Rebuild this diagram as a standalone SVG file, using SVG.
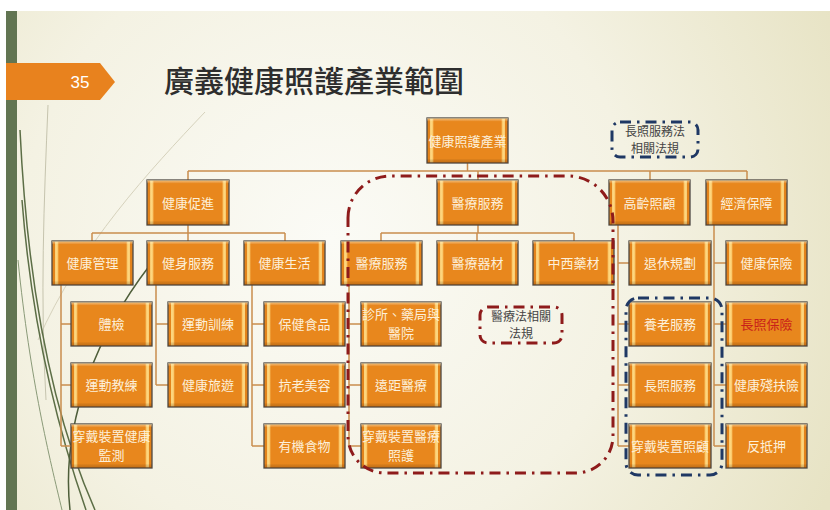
<svg xmlns="http://www.w3.org/2000/svg" width="830" height="510" viewBox="0 0 830 510">
<defs>
<radialGradient id="bg" cx="330" cy="240" r="560" gradientUnits="userSpaceOnUse">
<stop offset="0" stop-color="#FBFBF6"/>
<stop offset="0.55" stop-color="#F4F2E3"/>
<stop offset="1" stop-color="#E7E3C4"/>
</radialGradient>
<linearGradient id="gb" x1="0" y1="0" x2="1" y2="0">
<stop offset="0" stop-color="#E3831B"/>
<stop offset="0.035" stop-color="#E3831B"/>
<stop offset="0.045" stop-color="#FFE08C"/>
<stop offset="0.07" stop-color="#FBC86A"/>
<stop offset="0.085" stop-color="#E8871D"/>
<stop offset="0.915" stop-color="#E8871D"/>
<stop offset="0.93" stop-color="#FBC86A"/>
<stop offset="0.955" stop-color="#FFE08C"/>
<stop offset="0.965" stop-color="#E3831B"/>
<stop offset="1" stop-color="#E3831B"/>
</linearGradient>
<linearGradient id="gv" x1="0" y1="0" x2="0" y2="1">
<stop offset="0" stop-color="#FFF0C0" stop-opacity="0.55"/>
<stop offset="0.08" stop-color="#FFFFFF" stop-opacity="0"/>
<stop offset="0.9" stop-color="#000000" stop-opacity="0"/>
<stop offset="1" stop-color="#7A3A00" stop-opacity="0.3"/>
</linearGradient>
</defs>
<style>
.b{fill:url(#gb);stroke:#4E4843;stroke-width:1.3}
.o{fill:url(#gv);stroke:none}
.t{font-family:"Noto Sans CJK TC","Noto Sans CJK SC",sans-serif;font-size:13px;fill:#FDF0DA;text-anchor:middle}
.r{fill:#C8201A}
.c{fill:none;stroke:#C98D4E;stroke-width:1.5}
.n{font-family:"Noto Sans CJK TC","Noto Sans CJK SC",sans-serif;font-size:12px;fill:#444;text-anchor:middle}
.red{fill:none;stroke:#8E1B1B;stroke-width:3;stroke-dasharray:11 6 2.5 6}
.blue{fill:none;stroke:#1F3864;stroke-width:3;stroke-dasharray:11 6 2.5 6}
.deco{fill:none;stroke:#5C6E46;stroke-width:1.5}
</style>
<rect x="0" y="0" width="830" height="510" fill="#FFFFFF"/>
<rect x="6" y="11" width="824" height="499" fill="url(#bg)"/>
<g id="decor">
<path d="M205,112 C150,170 80,245 38,340" fill="none" stroke="#D6D2BC" stroke-width="1"/>
<path d="M48,105 C44,200 40,300 46,400" fill="none" stroke="#C6C4AE" stroke-width="1"/>
<path class="deco" d="M20,130 C28,300 55,420 95,510"/>
<path class="deco" d="M22,200 C32,330 58,430 86,510" stroke-width="1"/>
<path d="M150,265 C100,330 60,420 70,510" fill="none" stroke="#4E5E3A" stroke-width="1.5"/>
<path d="M18,260 C30,380 50,460 62,510" fill="none" stroke="#8A9A78" stroke-width="1"/>
</g>
<rect x="6" y="11" width="11" height="499" fill="#627552"/>
<g id="page-tab">
<polygon points="6,63 100,63 115,82 100,100 6,100" fill="#E8821E"/>
<text x="80" y="88" font-family="'Liberation Sans',Arial,sans-serif" font-size="17" fill="#FFFFFF" text-anchor="middle">35</text>
</g>
<text id="title" x="314" y="92" font-family="'Noto Sans CJK TC','Noto Sans CJK SC',sans-serif" font-size="30" font-weight="500" fill="#2E2E2E" text-anchor="middle">廣義健康照護產業範圍</text>

<g id="connectors">
<path class="c" d="M467.5,163 V171 M188,171 H747 M188,171 V180 M478,171 V180 M650,171 V180 M747,171 V180"/>
<path class="c" d="M188,225 V233 M92,233 H285 M92,233 V241 M188,233 V241 M285,233 V241"/>
<path class="c" d="M478,225 V233 M381,233 H574 M381,233 V241 M477,233 V241 M574,233 V241"/>
<path class="c" d="M618,225 V446 M618,263 H629 M618,324 H629 M618,385 H629 M618,446 H629"/>
<path class="c" d="M714,225 V446 M714,263 H726 M714,324 H726 M714,385 H726 M714,446 H726"/>
<path class="c" d="M61,285 V446 M61,324 H71 M61,385 H71 M61,446 H71"/>
<path class="c" d="M156,285 V385 M156,324 H168 M156,385 H168"/>
<path class="c" d="M252,285 V446 M252,324 H264 M252,385 H264 M252,446 H264"/>
<path class="c" d="M349,285 V446 M349,324 H361 M349,385 H361 M349,446 H361"/>
</g>

<g id="root"><rect class="b" x="427" y="118" width="81" height="45"/><rect class="o" x="427" y="118" width="81" height="45"/><text class="t" x="467.5" y="145.5">健康照護產業</text></g>

<g id="n-health-promo"><rect class="b" x="147" y="180" width="82" height="45"/><rect class="o" x="147" y="180" width="82" height="45"/><text class="t" x="188" y="207.5">健康促進</text></g>
<g id="n-medical"><rect class="b" x="437" y="180" width="81" height="45"/><rect class="o" x="437" y="180" width="81" height="45"/><text class="t" x="477.5" y="207.5">醫療服務</text></g>
<g id="n-elder"><rect class="b" x="609" y="180" width="81" height="45"/><rect class="o" x="609" y="180" width="81" height="45"/><text class="t" x="649.5" y="207.5">高齡照顧</text></g>
<g id="n-economic"><rect class="b" x="706" y="180" width="81" height="45"/><rect class="o" x="706" y="180" width="81" height="45"/><text class="t" x="746.5" y="207.5">經濟保障</text></g>

<g id="n-health-mgmt"><rect class="b" x="52" y="241" width="81" height="44"/><rect class="o" x="52" y="241" width="81" height="44"/><text class="t" x="92.5" y="268">健康管理</text></g>
<g id="n-fitness"><rect class="b" x="147" y="241" width="82" height="44"/><rect class="o" x="147" y="241" width="82" height="44"/><text class="t" x="188" y="268">健身服務</text></g>
<g id="n-health-life"><rect class="b" x="244" y="241" width="81" height="44"/><rect class="o" x="244" y="241" width="81" height="44"/><text class="t" x="284.5" y="268">健康生活</text></g>
<g id="n-med-service"><rect class="b" x="341" y="241" width="81" height="44"/><rect class="o" x="341" y="241" width="81" height="44"/><text class="t" x="381.5" y="268">醫療服務</text></g>
<g id="n-med-equip"><rect class="b" x="437" y="241" width="81" height="44"/><rect class="o" x="437" y="241" width="81" height="44"/><text class="t" x="477.5" y="268">醫療器材</text></g>
<g id="n-medicine"><rect class="b" x="533" y="241" width="81" height="44"/><rect class="o" x="533" y="241" width="81" height="44"/><text class="t" x="573.5" y="268">中西藥材</text></g>
<g id="n-retire"><rect class="b" x="629" y="241" width="82" height="44"/><rect class="o" x="629" y="241" width="82" height="44"/><text class="t" x="670" y="268">退休規劃</text></g>
<g id="n-health-ins"><rect class="b" x="726" y="241" width="81" height="44"/><rect class="o" x="726" y="241" width="81" height="44"/><text class="t" x="766.5" y="268">健康保險</text></g>

<g id="n-checkup"><rect class="b" x="71" y="302" width="81" height="44"/><rect class="o" x="71" y="302" width="81" height="44"/><text class="t" x="111.5" y="329">體檢</text></g>
<g id="n-coach"><rect class="b" x="71" y="363" width="81" height="44"/><rect class="o" x="71" y="363" width="81" height="44"/><text class="t" x="111.5" y="390">運動教練</text></g>
<g id="n-wear-health"><rect class="b" x="71" y="424" width="81" height="44"/><rect class="o" x="71" y="424" width="81" height="44"/><text class="t" x="111.5" y="441">穿戴裝置健康</text><text class="t" x="111.5" y="460">監測</text></g>

<g id="n-training"><rect class="b" x="168" y="302" width="80" height="44"/><rect class="o" x="168" y="302" width="80" height="44"/><text class="t" x="208" y="329">運動訓練</text></g>
<g id="n-travel"><rect class="b" x="168" y="363" width="80" height="44"/><rect class="o" x="168" y="363" width="80" height="44"/><text class="t" x="208" y="390">健康旅遊</text></g>

<g id="n-food"><rect class="b" x="264" y="302" width="81" height="44"/><rect class="o" x="264" y="302" width="81" height="44"/><text class="t" x="304.5" y="329">保健食品</text></g>
<g id="n-antiaging"><rect class="b" x="264" y="363" width="81" height="44"/><rect class="o" x="264" y="363" width="81" height="44"/><text class="t" x="304.5" y="390">抗老美容</text></g>
<g id="n-organic"><rect class="b" x="264" y="424" width="81" height="44"/><rect class="o" x="264" y="424" width="81" height="44"/><text class="t" x="304.5" y="451">有機食物</text></g>

<g id="n-clinic"><rect class="b" x="361" y="302" width="80" height="44"/><rect class="o" x="361" y="302" width="80" height="44"/><text class="t" x="401" y="318.5">診所、藥局與</text><text class="t" x="401" y="338">醫院</text></g>
<g id="n-tele"><rect class="b" x="361" y="363" width="80" height="44"/><rect class="o" x="361" y="363" width="80" height="44"/><text class="t" x="401" y="390">遠距醫療</text></g>
<g id="n-wear-med"><rect class="b" x="361" y="424" width="80" height="44"/><rect class="o" x="361" y="424" width="80" height="44"/><text class="t" x="401" y="441">穿戴裝置醫療</text><text class="t" x="401" y="460">照護</text></g>

<g id="n-aged-care"><rect class="b" x="629" y="302" width="82" height="44"/><rect class="o" x="629" y="302" width="82" height="44"/><text class="t" x="670" y="329">養老服務</text></g>
<g id="n-ltc-service"><rect class="b" x="629" y="363" width="82" height="44"/><rect class="o" x="629" y="363" width="82" height="44"/><text class="t" x="670" y="390">長照服務</text></g>
<g id="n-wear-care"><rect class="b" x="629" y="424" width="82" height="44"/><rect class="o" x="629" y="424" width="82" height="44"/><text class="t" x="670" y="451">穿戴裝置照顧</text></g>

<g id="n-ltc-ins"><rect class="b" x="726" y="302" width="81" height="44"/><rect class="o" x="726" y="302" width="81" height="44"/><text class="t r" x="766.5" y="329">長照保險</text></g>
<g id="n-disability"><rect class="b" x="726" y="363" width="81" height="44"/><rect class="o" x="726" y="363" width="81" height="44"/><text class="t" x="766.5" y="390">健康殘扶險</text></g>
<g id="n-reverse"><rect class="b" x="726" y="424" width="81" height="44"/><rect class="o" x="726" y="424" width="81" height="44"/><text class="t" x="766.5" y="451">反抵押</text></g>

<g id="medical-region">
<path class="red" d="M348,218 A42,42 0 0 1 390,176 H568 A45,45 0 0 1 613,221 V436 A37,37 0 0 1 576,473 H385 A37,37 0 0 1 348,436 Z"/>
</g>
<g id="medical-law">
<rect class="red" x="480" y="307" width="82" height="36" rx="8"/>
<text class="n" x="521" y="321">醫療法相關</text>
<text class="n" x="521" y="338">法規</text>
</g>
<g id="ltc-region">
<rect class="blue" x="626" y="298" width="96" height="177" rx="12"/>
</g>
<g id="ltc-law">
<rect class="blue" x="612" y="122" width="86" height="35" rx="8"/>
<text class="n" x="655" y="136">長照服務法</text>
<text class="n" x="655" y="153">相關法規</text>
</g>
</svg>
